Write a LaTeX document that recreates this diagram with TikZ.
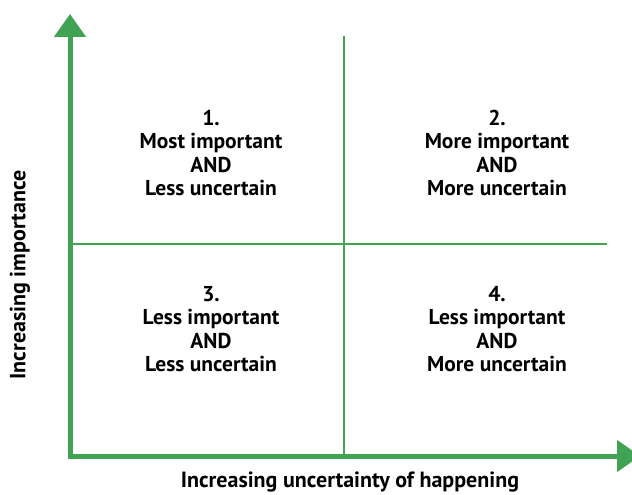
\documentclass[tikz,border=0pt]{standalone}
\usepackage{fontspec}
\setmainfont{PT Sans}
\usetikzlibrary{arrows.meta}
\definecolor{gridgreen}{RGB}{64,163,84}
\tikzset{>={Triangle[width=31pt,length=23pt]}}
\tikzset{
  axis/.style={gridgreen, line width=5pt},
  divider/.style={gridgreen, line width=2pt},
  quad/.style={align=center, font=\bfseries\fontsize{21.5}{23.5}\selectfont},
  axislabel/.style={inner sep=0pt, font=\bfseries\fontsize{22}{24}\selectfont}
}

\begin{document}
\begin{tikzpicture}[x=1pt,y=-1pt]

  \useasboundingbox (0,0) rectangle (632,495);

  \node[coordinate] (origin) at (70,456) {};
  \node[coordinate] (y_top) at (70,14) {};
  \node[coordinate] (x_end) at (640,456) {};
  \node[coordinate] (v_top) at (344,36) {};
  \node[coordinate] (v_bot) at (344,456) {};
  \node[coordinate] (h_left) at (70,244) {};
  \node[coordinate] (h_right) at (607,244) {};

  % dividers
  \draw[divider] (v_top) -- (v_bot);
  \draw[divider] (h_left) -- (h_right);

  % axes
  \draw[axis,->] (origin) -- (y_top);
  \draw[axis,->] ([xshift=-2.5pt]origin) -- (x_end);

  \node[quad] (q1) at (211,153) {1.\\Most important\\AND\\Less uncertain};
  \node[quad] (q2) at (497,153) {2.\\More important\\AND\\More uncertain};
  \node[quad] (q3) at (211,329) {3.\\Less important\\AND\\Less uncertain};
  \node[quad] (q4) at (497,329) {4.\\Less important\\AND\\More uncertain};

  \node[axislabel, rotate=90] (ylabel) at (20,275) {Increasing importance};
  \node[axislabel] (xlabel) at (350,482) {Increasing uncertainty of happening};

\end{tikzpicture}
\end{document}
